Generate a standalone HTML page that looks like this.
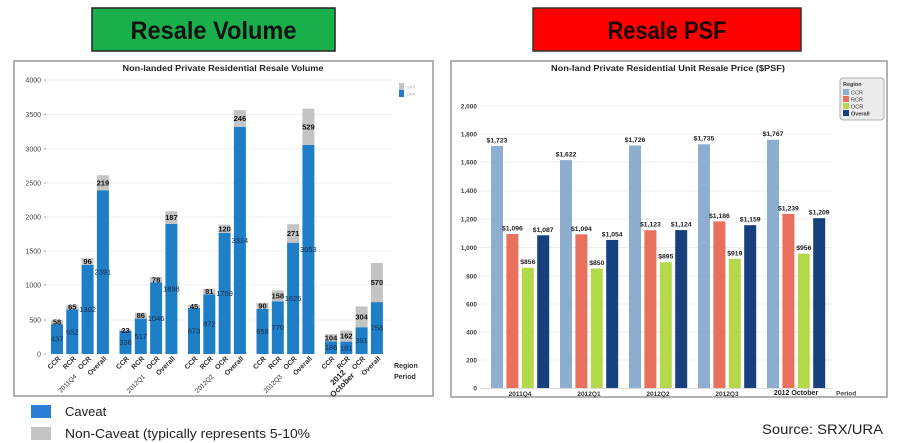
<!DOCTYPE html>
<html><head><meta charset="utf-8"><style>
html,body{margin:0;padding:0;background:#fff;}
svg{display:block;}
text{font-family:"Liberation Sans",Arial,sans-serif;}
</style></head><body>
<svg width="900" height="443" viewBox="0 0 900 443" xmlns="http://www.w3.org/2000/svg">
<rect x="0" y="0" width="900" height="443" fill="#fff"/>
<!-- Headers -->
<rect x="92" y="8" width="243" height="43" fill="#19b04b" stroke="#222" stroke-width="1.5"/>
<text x="213.5" y="39" font-size="25" font-weight="bold" text-anchor="middle" fill="#111" textLength="166" lengthAdjust="spacingAndGlyphs">Resale Volume</text>
<rect x="533" y="8" width="268" height="43" fill="#fe0000" stroke="#333" stroke-width="1.5"/>
<text x="667" y="39" font-size="25" font-weight="bold" text-anchor="middle" fill="#1a0000" textLength="119" lengthAdjust="spacingAndGlyphs">Resale PSF</text>

<!-- LEFT CHART -->
<rect x="14" y="61" width="419" height="335" fill="#fff" stroke="#999" stroke-width="1.5"/>
<text x="223" y="71" font-size="8" font-weight="bold" text-anchor="middle" fill="#222" textLength="201" lengthAdjust="spacingAndGlyphs">Non-landed Private Residential Resale Volume</text>
<g stroke="#efefef" stroke-width="1">
<line x1="47" y1="80" x2="392" y2="80"/><line x1="47" y1="114.5" x2="392" y2="114.5"/>
<line x1="47" y1="149" x2="392" y2="149"/><line x1="47" y1="183" x2="392" y2="183"/>
<line x1="47" y1="217" x2="392" y2="217"/><line x1="47" y1="251" x2="392" y2="251"/>
<line x1="47" y1="285" x2="392" y2="285"/><line x1="47" y1="320" x2="392" y2="320"/>
</g>
<g font-size="7" fill="#444" text-anchor="end">
<text x="41" y="82.5">4000</text><text x="41" y="117">3500</text><text x="41" y="151.5">3000</text>
<text x="41" y="185.5">2500</text><text x="41" y="219.5">2000</text><text x="41" y="253.5">1500</text>
<text x="41" y="287.5">1000</text><text x="41" y="322.5">500</text><text x="41" y="356.5">0</text>
</g>
<g stroke="#888" stroke-width="0.8">
<line x1="44" y1="80" x2="46" y2="80"/><line x1="44" y1="114.5" x2="46" y2="114.5"/><line x1="44" y1="149" x2="46" y2="149"/>
<line x1="44" y1="183" x2="46" y2="183"/><line x1="44" y1="217" x2="46" y2="217"/><line x1="44" y1="251" x2="46" y2="251"/>
<line x1="44" y1="285" x2="46" y2="285"/><line x1="44" y1="320" x2="46" y2="320"/><line x1="44" y1="354" x2="46" y2="354"/>
</g>
<!-- legend small -->
<rect x="399" y="83" width="5" height="7" fill="#c4c4c4"/>
<rect x="399" y="90" width="5" height="7" fill="#1f7fc6"/>
<text x="407" y="88.5" font-size="4" fill="#aaa">SRX</text>
<text x="407" y="95.5" font-size="4" fill="#aaa">URA</text>

<!-- bars: blue -->
<g fill="#1f7fc6">
<rect x="51" y="324.07" width="12" height="29.93"/>
<rect x="66.3" y="309.34" width="12" height="44.66"/>
<rect x="81.6" y="264.81" width="12" height="89.19"/>
<rect x="96.9" y="190.22" width="12" height="163.78"/>
<rect x="119.5" y="330.98" width="12" height="23.02"/>
<rect x="134.8" y="318.59" width="12" height="35.41"/>
<rect x="150.1" y="282.35" width="12" height="71.65"/>
<rect x="165.4" y="223.99" width="12" height="130.01"/>
<rect x="188" y="307.9" width="12" height="46.1"/>
<rect x="203.3" y="294.27" width="12" height="59.73"/>
<rect x="218.6" y="232.82" width="12" height="121.18"/>
<rect x="233.9" y="126.99" width="12" height="227.01"/>
<rect x="256.5" y="308.93" width="12" height="45.07"/>
<rect x="271.8" y="301.25" width="12" height="52.75"/>
<rect x="287.1" y="242.69" width="12" height="111.31"/>
<rect x="302.4" y="144.87" width="12" height="209.13"/>
<rect x="325" y="341.26" width="12" height="12.74"/>
<rect x="340.3" y="341.6" width="12" height="12.4"/>
<rect x="355.6" y="327.22" width="12" height="26.78"/>
<rect x="370.9" y="302.08" width="12" height="51.92"/>
</g>
<g fill="#c4c4c4">
<rect x="51" y="320.1" width="12" height="3.97"/>
<rect x="66.3" y="304.89" width="12" height="4.45"/>
<rect x="81.6" y="258.23" width="12" height="6.58"/>
<rect x="96.9" y="175.22" width="12" height="15"/>
<rect x="119.5" y="329.4" width="12" height="1.58"/>
<rect x="134.8" y="312.7" width="12" height="5.89"/>
<rect x="150.1" y="277.01" width="12" height="5.34"/>
<rect x="165.4" y="211.18" width="12" height="12.81"/>
<rect x="188" y="304.82" width="12" height="3.08"/>
<rect x="203.3" y="288.72" width="12" height="5.55"/>
<rect x="218.6" y="224.6" width="12" height="8.22"/>
<rect x="233.9" y="110.14" width="12" height="16.85"/>
<rect x="256.5" y="302.76" width="12" height="6.17"/>
<rect x="271.8" y="290.43" width="12" height="10.82"/>
<rect x="287.1" y="224.13" width="12" height="18.56"/>
<rect x="302.4" y="108.63" width="12" height="36.24"/>
<rect x="325" y="334.14" width="12" height="7.12"/>
<rect x="340.3" y="330.5" width="12" height="11.1"/>
<rect x="355.6" y="306.4" width="12" height="20.82"/>
<rect x="370.9" y="263.03" width="12" height="39.05"/>
</g>
<!-- blue labels -->
<g font-size="7.5" fill="#1b2a48" text-anchor="middle">
<text x="57" y="341.6">437</text><text x="72.3" y="334.3">652</text><text x="87.6" y="312">1302</text><text x="102.9" y="274.7">2391</text>
<text x="125.5" y="345.1">336</text><text x="140.8" y="338.9">517</text><text x="156.1" y="320.8">1046</text><text x="171.4" y="291.6">1898</text>
<text x="194" y="333.6">673</text><text x="209.3" y="326.7">872</text><text x="224.6" y="296">1769</text><text x="239.9" y="243.1">3314</text>
<text x="262.5" y="334.1">658</text><text x="277.8" y="330.2">770</text><text x="293.1" y="300.9">1625</text><text x="308.4" y="252">3053</text>
<text x="331" y="350.2">186</text><text x="346.3" y="350.4">181</text><text x="361.6" y="343.2">391</text><text x="376.9" y="330.6">758</text>
</g>
<!-- gray labels -->
<g font-size="7.5" font-weight="bold" fill="#111" text-anchor="middle">
<text x="57" y="324.7">58</text><text x="72.3" y="309.7">65</text><text x="87.6" y="264.1">96</text><text x="102.9" y="185.3">219</text>
<text x="125.5" y="332.8">23</text><text x="140.8" y="318.2">86</text><text x="156.1" y="282.3">78</text><text x="171.4" y="220.2">187</text>
<text x="194" y="309">45</text><text x="209.3" y="294.1">81</text><text x="224.6" y="231.3">120</text><text x="239.9" y="121.2">246</text>
<text x="262.5" y="308.4">90</text><text x="277.8" y="298.4">158</text><text x="293.1" y="236">271</text><text x="308.4" y="129.4">529</text>
<text x="331" y="340.3">104</text><text x="346.3" y="338.6">162</text><text x="361.6" y="319.4">304</text><text x="376.9" y="285.2">570</text>
</g>
<!-- x labels left -->
<g font-size="7" font-weight="bold" fill="#333" text-anchor="end">
<text transform="translate(61,359) rotate(-45)">CCR</text>
<text transform="translate(76.3,359) rotate(-45)">RCR</text>
<text transform="translate(91.6,359) rotate(-45)">OCR</text>
<text transform="translate(107,359) rotate(-45)">Overall</text>
<text transform="translate(129.5,359) rotate(-45)">CCR</text>
<text transform="translate(144.8,359) rotate(-45)">RCR</text>
<text transform="translate(160.1,359) rotate(-45)">OCR</text>
<text transform="translate(175.5,359) rotate(-45)">Overall</text>
<text transform="translate(198,359) rotate(-45)">CCR</text>
<text transform="translate(213.3,359) rotate(-45)">RCR</text>
<text transform="translate(228.6,359) rotate(-45)">OCR</text>
<text transform="translate(244,359) rotate(-45)">Overall</text>
<text transform="translate(266.5,359) rotate(-45)">CCR</text>
<text transform="translate(281.8,359) rotate(-45)">RCR</text>
<text transform="translate(297.1,359) rotate(-45)">OCR</text>
<text transform="translate(312.5,359) rotate(-45)">Overall</text>
<text transform="translate(335,359) rotate(-45)">CCR</text>
<text transform="translate(350.3,359) rotate(-45)">RCR</text>
<text transform="translate(365.6,359) rotate(-45)">OCR</text>
<text transform="translate(381,359) rotate(-45)">Overall</text>
</g>
<g font-size="6.5" fill="#333" text-anchor="end">
<text transform="translate(77,377) rotate(-45)">2011Q4</text>
<text transform="translate(145.5,377) rotate(-45)">2012Q1</text>
<text transform="translate(214,377) rotate(-45)">2012Q2</text>
<text transform="translate(282.5,377) rotate(-45)">2012Q3</text>
</g>
<g font-size="8" font-weight="bold" fill="#222" text-anchor="end">
<text transform="translate(346,373) rotate(-45)">2012</text>
<text transform="translate(355,376) rotate(-45)">October</text>
</g>
<text x="394" y="368" font-size="7" font-weight="bold" fill="#333">Region</text>
<text x="394" y="379" font-size="7" font-weight="bold" fill="#333">Period</text>

<!-- bottom legend -->
<rect x="31" y="405" width="20" height="13" fill="#2b7fd6"/>
<text x="65" y="416" font-size="13" fill="#222">Caveat</text>
<rect x="31" y="427" width="20" height="13" fill="#c4c4c4"/>
<text x="65" y="438" font-size="13" fill="#222" textLength="245" lengthAdjust="spacingAndGlyphs">Non-Caveat (typically represents 5-10%</text>

<!-- RIGHT CHART -->
<rect x="451" y="61" width="436" height="336" fill="#fff" stroke="#999" stroke-width="1.5"/>
<text x="668" y="71" font-size="8" font-weight="bold" text-anchor="middle" fill="#222" textLength="234" lengthAdjust="spacingAndGlyphs">Non-land Private Residential  Unit Resale Price ($PSF)</text>
<g stroke="#efefef" stroke-width="1">
<line x1="480" y1="106" x2="833" y2="106"/><line x1="480" y1="134" x2="833" y2="134"/>
<line x1="480" y1="162" x2="833" y2="162"/><line x1="480" y1="191" x2="833" y2="191"/>
<line x1="480" y1="219" x2="833" y2="219"/><line x1="480" y1="247.5" x2="833" y2="247.5"/>
<line x1="480" y1="276" x2="833" y2="276"/><line x1="480" y1="304" x2="833" y2="304"/>
<line x1="480" y1="332" x2="833" y2="332"/><line x1="480" y1="360" x2="833" y2="360"/>
</g>
<line x1="480" y1="388.5" x2="833" y2="388.5" stroke="#ddd" stroke-width="1"/>
<g font-size="6.5" font-weight="bold" fill="#444" text-anchor="end">
<text x="477" y="108.5">2,000</text><text x="477" y="136.5">1,800</text><text x="477" y="164.5">1,600</text>
<text x="477" y="193">1,400</text><text x="477" y="221.5">1,200</text><text x="477" y="250">1,000</text>
<text x="477" y="278.5">800</text><text x="477" y="306.5">600</text><text x="477" y="334.5">400</text>
<text x="477" y="362.5">200</text><text x="477" y="390.5">0</text>
</g>
<!-- legend -->
<rect x="840" y="78" width="44" height="42" rx="3" fill="#ececec" stroke="#999" stroke-width="0.8"/>
<text x="843" y="86" font-size="5.5" font-weight="bold" fill="#333">Region</text>
<rect x="843" y="89" width="6" height="6" fill="#8eaed0"/><text x="851" y="94.5" font-size="5.5" fill="#333">CCR</text>
<rect x="843" y="96" width="6" height="6" fill="#e8705c"/><text x="851" y="101.5" font-size="5.5" fill="#333">RCR</text>
<rect x="843" y="103" width="6" height="6" fill="#b5d84a"/><text x="851" y="108.5" font-size="5.5" fill="#333">OCR</text>
<rect x="843" y="110" width="6" height="6" fill="#17407f"/><text x="851" y="115.5" font-size="5.5" font-weight="bold" fill="#333">Overall</text>
<!-- bars -->
<g fill="#8eaed0">
<rect x="491" y="145.92" width="12" height="242.08"/>
<rect x="560" y="160.11" width="12" height="227.89"/>
<rect x="629" y="145.5" width="12" height="242.5"/>
<rect x="698" y="144.23" width="12" height="243.77"/>
<rect x="767" y="139.74" width="12" height="248.26"/>
</g>
<g fill="#e8705c">
<rect x="506.4" y="234.01" width="12" height="153.99"/>
<rect x="575.4" y="234.29" width="12" height="153.71"/>
<rect x="644.4" y="230.22" width="12" height="157.78"/>
<rect x="713.4" y="221.37" width="12" height="166.63"/>
<rect x="782.4" y="213.92" width="12" height="174.08"/>
</g>
<g fill="#b5d84a">
<rect x="521.8" y="267.73" width="12" height="120.27"/>
<rect x="590.8" y="268.57" width="12" height="119.43"/>
<rect x="659.8" y="262.25" width="12" height="125.75"/>
<rect x="728.8" y="258.88" width="12" height="129.12"/>
<rect x="797.8" y="253.68" width="12" height="134.32"/>
</g>
<g fill="#17407f">
<rect x="537.2" y="235.28" width="12" height="152.72"/>
<rect x="606.2" y="239.91" width="12" height="148.09"/>
<rect x="675.2" y="230.08" width="12" height="157.92"/>
<rect x="744.2" y="225.16" width="12" height="162.84"/>
<rect x="813.2" y="218.14" width="12" height="169.86"/>
</g>
<g font-size="6.8" font-weight="bold" fill="#222" text-anchor="middle">
<text x="497" y="142.5">$1,723</text><text x="512.4" y="230.5">$1,096</text><text x="527.8" y="264">$856</text><text x="543.2" y="231.8">$1,087</text>
<text x="566" y="156.6">$1,622</text><text x="581.4" y="230.8">$1,094</text><text x="596.8" y="265">$850</text><text x="612.2" y="236.4">$1,054</text>
<text x="635" y="142">$1,726</text><text x="650.4" y="226.7">$1,123</text><text x="665.8" y="258.7">$895</text><text x="681.2" y="226.6">$1,124</text>
<text x="704" y="140.7">$1,735</text><text x="719.4" y="217.9">$1,186</text><text x="734.8" y="255.4">$919</text><text x="750.2" y="221.6">$1,159</text>
<text x="773" y="136.2">$1,767</text><text x="788.4" y="210.4">$1,239</text><text x="803.8" y="250.2">$956</text><text x="819.2" y="214.6">$1,209</text>
</g>
<g font-size="6.5" font-weight="bold" fill="#333" text-anchor="middle">
<text x="520" y="396">2011Q4</text><text x="589" y="396">2012Q1</text><text x="658" y="396">2012Q2</text><text x="727" y="396">2012Q3</text>
</g>
<text x="796" y="395" font-size="7" font-weight="bold" fill="#222" text-anchor="middle">2012 October</text>
<text x="836" y="395.5" font-size="6.5" font-weight="bold" fill="#444">Period</text>

<text x="762" y="434" font-size="14" fill="#222" textLength="121" lengthAdjust="spacingAndGlyphs">Source:  SRX/URA</text>
</svg>
</body></html>
